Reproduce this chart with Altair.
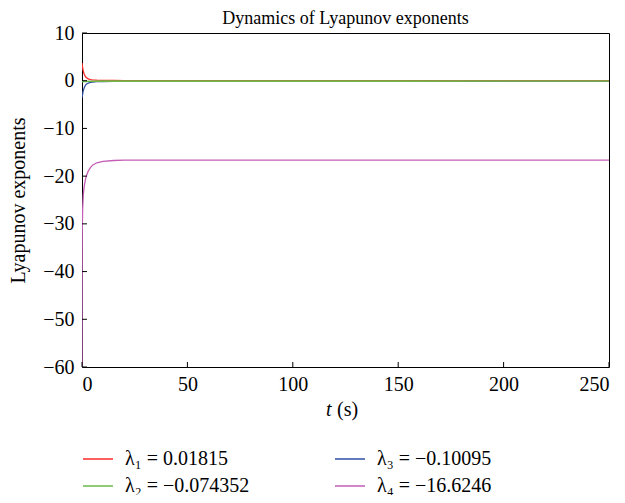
import altair as alt
import pandas as pd

FONT = "Liberation Serif"
W, H = 527, 334
FS = 20

series_names = ["λ₁ = 0.01815", "λ₂ = −0.074352", "λ₃ = −0.10095", "λ₄ = −16.6246"]
colors = ["#FF2A2A", "#6DB848", "#2F4FA3", "#C35DB6"]

t_red = [0, 0.25, 0.5, 1, 1.5, 2, 3, 4, 5, 7, 10, 15, 20, 30, 50, 100, 150, 200, 250]
v_red = [3.7, 2.9, 2.2, 1.4, 0.95, 0.65, 0.38, 0.25, 0.18, 0.11, 0.07, 0.045, 0.035, 0.028, 0.023, 0.02, 0.019, 0.0185, 0.01815]

t_green = [0, 1, 5, 10, 50, 100, 150, 200, 250]
v_green = [-0.2, -0.15, -0.1, -0.09, -0.08, -0.077, -0.076, -0.075, -0.074352]

t_blue = [0, 0.25, 0.5, 1, 1.5, 2, 3, 4, 5, 7, 10, 15, 20, 30, 50, 100, 150, 200, 250]
v_blue = [-3.6, -2.9, -2.3, -1.5, -1.05, -0.75, -0.48, -0.35, -0.28, -0.2, -0.16, -0.13, -0.12, -0.11, -0.105, -0.102, -0.101, -0.101, -0.10095]

t_mag = [0, 0.1, 0.3, 0.6, 1, 1.5, 2, 3, 4, 5, 7, 10, 15, 20, 30, 50, 100, 150, 200, 250]
v_mag = [-60, -32, -27, -24, -22.3, -21, -20, -18.9, -18.2, -17.7, -17.2, -16.9, -16.72, -16.66, -16.64, -16.63, -16.626, -16.625, -16.6247, -16.6246]

x_ticks = [0, 50, 100, 150, 200, 250]
y_ticks = [-60, -50, -40, -30, -20, -10, 0, 10]

title_text = "Dynamics of Lyapunov exponents"
y_title = "Lyapunov exponents"

# drawing order: blue, red, green, magenta
series_data = [
    (2, t_blue, v_blue, 1.3),
    (0, t_red, v_red, 1.3),
    (1, t_green, v_green, 1.6),
    (3, t_mag, v_mag, 1.3),
]

xscale = alt.Scale(domain=[0, 250], nice=False)
yscale = alt.Scale(domain=[-60, 10], nice=False)

color_enc = alt.Color(
    "series:N",
    scale=alt.Scale(domain=series_names, range=colors),
    legend=alt.Legend(
        title=None, orient="none", legendX=0, legendY=410, columns=2,
        symbolType="stroke", symbolSize=900, symbolStrokeWidth=1.5,
        labelFont=FONT, labelFontSize=FS, labelColor="black", labelOffset=11,
        columnPadding=82, rowPadding=1, labelLimit=300, padding=0,
    ),
)

layers = []
first = True
for idx, ts, vs, sw in series_data:
    df = pd.DataFrame({"t": ts, "y": vs, "series": series_names[idx]})
    if first:
        xenc = alt.X("t:Q", scale=xscale, axis=alt.Axis(
            values=x_ticks, ticks=False, grid=False, domain=False, title=None,
            labelFont=FONT, labelFontSize=FS, labelColor="black", labelPadding=7, format="d"))
        yenc = alt.Y("y:Q", scale=yscale, axis=alt.Axis(
            values=y_ticks, ticks=False, grid=False, domain=False, title=y_title,
            titleFont=FONT, titleFontSize=FS, titleFontWeight="normal", titleColor="black",
            titlePadding=14, labelFont=FONT, labelFontSize=FS, labelColor="black",
            labelPadding=8, format="d"))
        cenc = color_enc
        first = False
    else:
        xenc = alt.X("t:Q", scale=xscale)
        yenc = alt.Y("y:Q", scale=yscale)
        cenc = alt.value(colors[idx])
    layers.append(
        alt.Chart(df).mark_line(strokeWidth=sw, clip=True).encode(x=xenc, y=yenc, color=cenc)
    )

ytick_df = pd.DataFrame({"y": y_ticks})
xtick_df = pd.DataFrame({"t": x_ticks})
left_ticks = alt.Chart(ytick_df).mark_rule(color="black", strokeWidth=1).encode(
    x=alt.value(0), x2=alt.value(5), y=alt.Y("y:Q", scale=yscale))
bottom_ticks = alt.Chart(xtick_df).mark_rule(color="black", strokeWidth=1).encode(
    x=alt.X("t:Q", scale=xscale), y=alt.value(H), y2=alt.value(H - 5))

title_mark = alt.Chart(pd.DataFrame({"s": [title_text]})).mark_text(
    font=FONT, fontSize=18, align="center", baseline="alphabetic", color="black"
).encode(x=alt.value(W / 2), y=alt.value(-9), text="s:N")

t_label = alt.Chart(pd.DataFrame({"s": ["t"]})).mark_text(
    font=FONT, fontSize=FS, fontStyle="italic", align="left", baseline="alphabetic", color="black"
).encode(x=alt.value(244), y=alt.value(383), text="s:N")
s_label = alt.Chart(pd.DataFrame({"s": ["(s)"]})).mark_text(
    font=FONT, fontSize=FS, align="left", baseline="alphabetic", color="black"
).encode(x=alt.value(255), y=alt.value(383), text="s:N")

chart = alt.layer(*layers, left_ticks, bottom_ticks, title_mark, t_label, s_label).properties(
    width=W, height=H,
    padding={"left": 74, "top": 25, "right": 8, "bottom": 128},
    autosize=alt.AutoSizeParams(type="none"),
).configure_view(stroke="black", strokeWidth=1)

chart.save("out.html", embed_options={"renderer": "svg", "actions": False})
